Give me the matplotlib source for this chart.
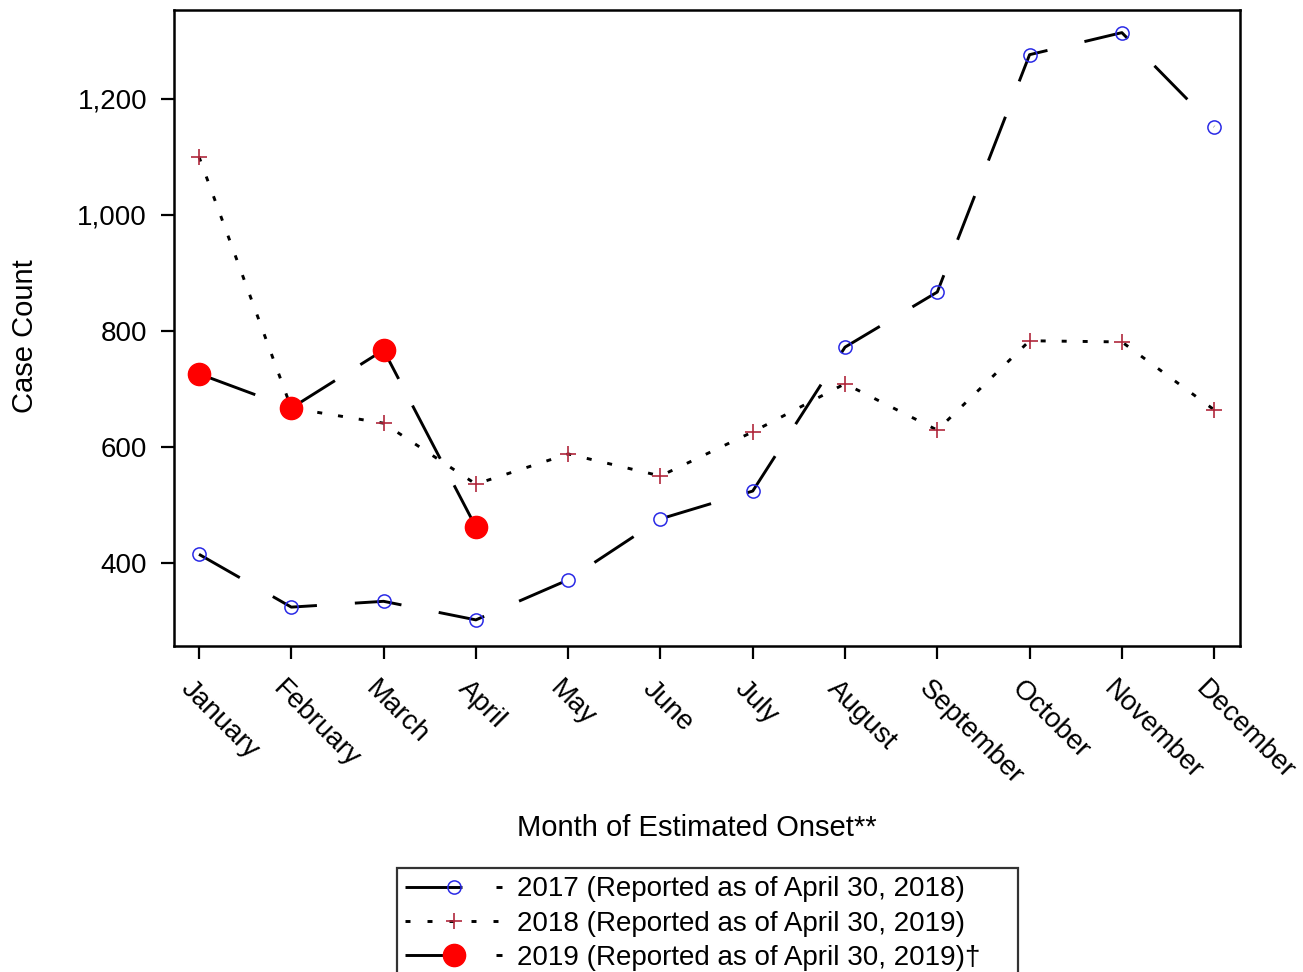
import matplotlib
matplotlib.use('Agg')
import matplotlib.pyplot as plt
from matplotlib.lines import Line2D
from matplotlib.ticker import FuncFormatter, FixedLocator
import matplotlib.transforms as mtransforms

months = ['January', 'February', 'March', 'April', 'May', 'June', 'July',
          'August', 'September', 'October', 'November', 'December']
cases_2017 = [415, 324, 334, 302, 371, 476, 524, 772, 867, 1276, 1314, 1152]
cases_2018 = [1100, 667, 641, 536, 588, 550, 626, 709, 629, 783, 781, 664]
cases_2019 = [726, 667, 767, 462]
yticks = [400, 600, 800, 1000, 1200]
legend_labels = ['2017 (Reported as of April 30, 2018)',
                 '2018 (Reported as of April 30, 2019)',
                 '2019 (Reported as of April 30, 2019)\u2020']
xlabel = 'Month of Estimated Onset**'
ylabel = 'Case Count'

plt.rcParams['font.family'] = ['Liberation Sans', 'DejaVu Sans']

W, H = 1303, 972
fig = plt.figure(figsize=(W / 100, H / 100), dpi=100)
ax = fig.add_axes([174 / W, 1 - 646 / H, (1240 - 174) / W, (646 - 10) / H])

lw = 2.1
px = lw * 100 / 72          # pixels per dash unit
blue = '#2a2ae6'
plus_c = '#b0283c'
dash17 = (0, (47 / px, 38 / px))
dot18 = (0, (5 / px, 16 / px))
dash19 = (0, (60 / px, 30 / px))

x12 = list(range(len(months)))
ax.plot(x12, cases_2017, color='black', lw=lw, linestyle=dash17,
        marker='o', ms=9.5, mfc='none', mec=blue, mew=1.1, zorder=2)
ax.plot(x12, cases_2018, color='black', lw=lw, linestyle=dot18,
        marker='+', ms=11, mec=plus_c, mew=1.2, zorder=2)
ax.plot(x12[:len(cases_2019)], cases_2019, color='black', lw=lw, linestyle=dash19,
        marker='o', ms=16, mfc='red', mec='red', zorder=3)

ax.set_xlim(-0.271, 11.28)
ax.set_ylim(257, 1353)
ax.yaxis.set_major_locator(FixedLocator(yticks))
ax.yaxis.set_major_formatter(FuncFormatter(lambda v, p: f'{int(v):,}'))
ax.set_xticks(x12)
ax.set_xticklabels(months, rotation=-45, ha='left', va='top', rotation_mode='anchor')

for s in ax.spines.values():
    s.set_linewidth(1.8)
ax.tick_params(axis='both', direction='out', length=9.4, width=1.6, labelsize=20, color='black')
ax.tick_params(axis='y', pad=10)
ax.tick_params(axis='x', pad=12)

offset = mtransforms.ScaledTranslation(-3.5 / 72, 0, fig.dpi_scale_trans)
for lab in ax.get_xticklabels():
    lab.set_transform(lab.get_transform() + offset)

ax.set_xlabel(xlabel, fontsize=21, va='center')
ax.xaxis.set_label_coords((697 - 174) / 1066, (646 - 828) / 636)
ax.set_ylabel(ylabel, fontsize=21, va='center')
ax.yaxis.set_label_coords((25 - 174) / 1066, 1 - (336 - 10) / 636)

h17 = Line2D([], [], color='black', lw=lw,
             linestyle=(0, (57 / px, 34 / px, 6 / px, 60 / px)),
             marker='o', ms=9.5, mfc='none', mec=blue, mew=1.1)
h18 = Line2D([], [], color='black', lw=lw,
             linestyle=(0, (5 / px, 17 / px)),
             marker='+', ms=11, mec=plus_c, mew=1.2)
h19 = Line2D([], [], color='black', lw=lw,
             linestyle=(0, (57 / px, 34 / px, 6 / px, 60 / px)),
             marker='o', ms=16, mfc='red', mec='red')

lfs = 20
fs_px = lfs * 100 / 72
leg = fig.legend([h17, h18, h19], legend_labels, loc='upper left',
                 bbox_to_anchor=(397 / W, 1 - 868 / H, (1018 - 397) / W, 0),
                 bbox_transform=fig.transFigure, mode='expand',
                 fontsize=lfs, numpoints=1, handlelength=97 / fs_px,
                 handletextpad=15 / fs_px, borderpad=0.3, borderaxespad=0,
                 labelspacing=0.3, fancybox=False, frameon=True)
leg.get_frame().set_edgecolor('black')
leg.get_frame().set_linewidth(1.6)

fig.savefig('out.png', dpi=100)
